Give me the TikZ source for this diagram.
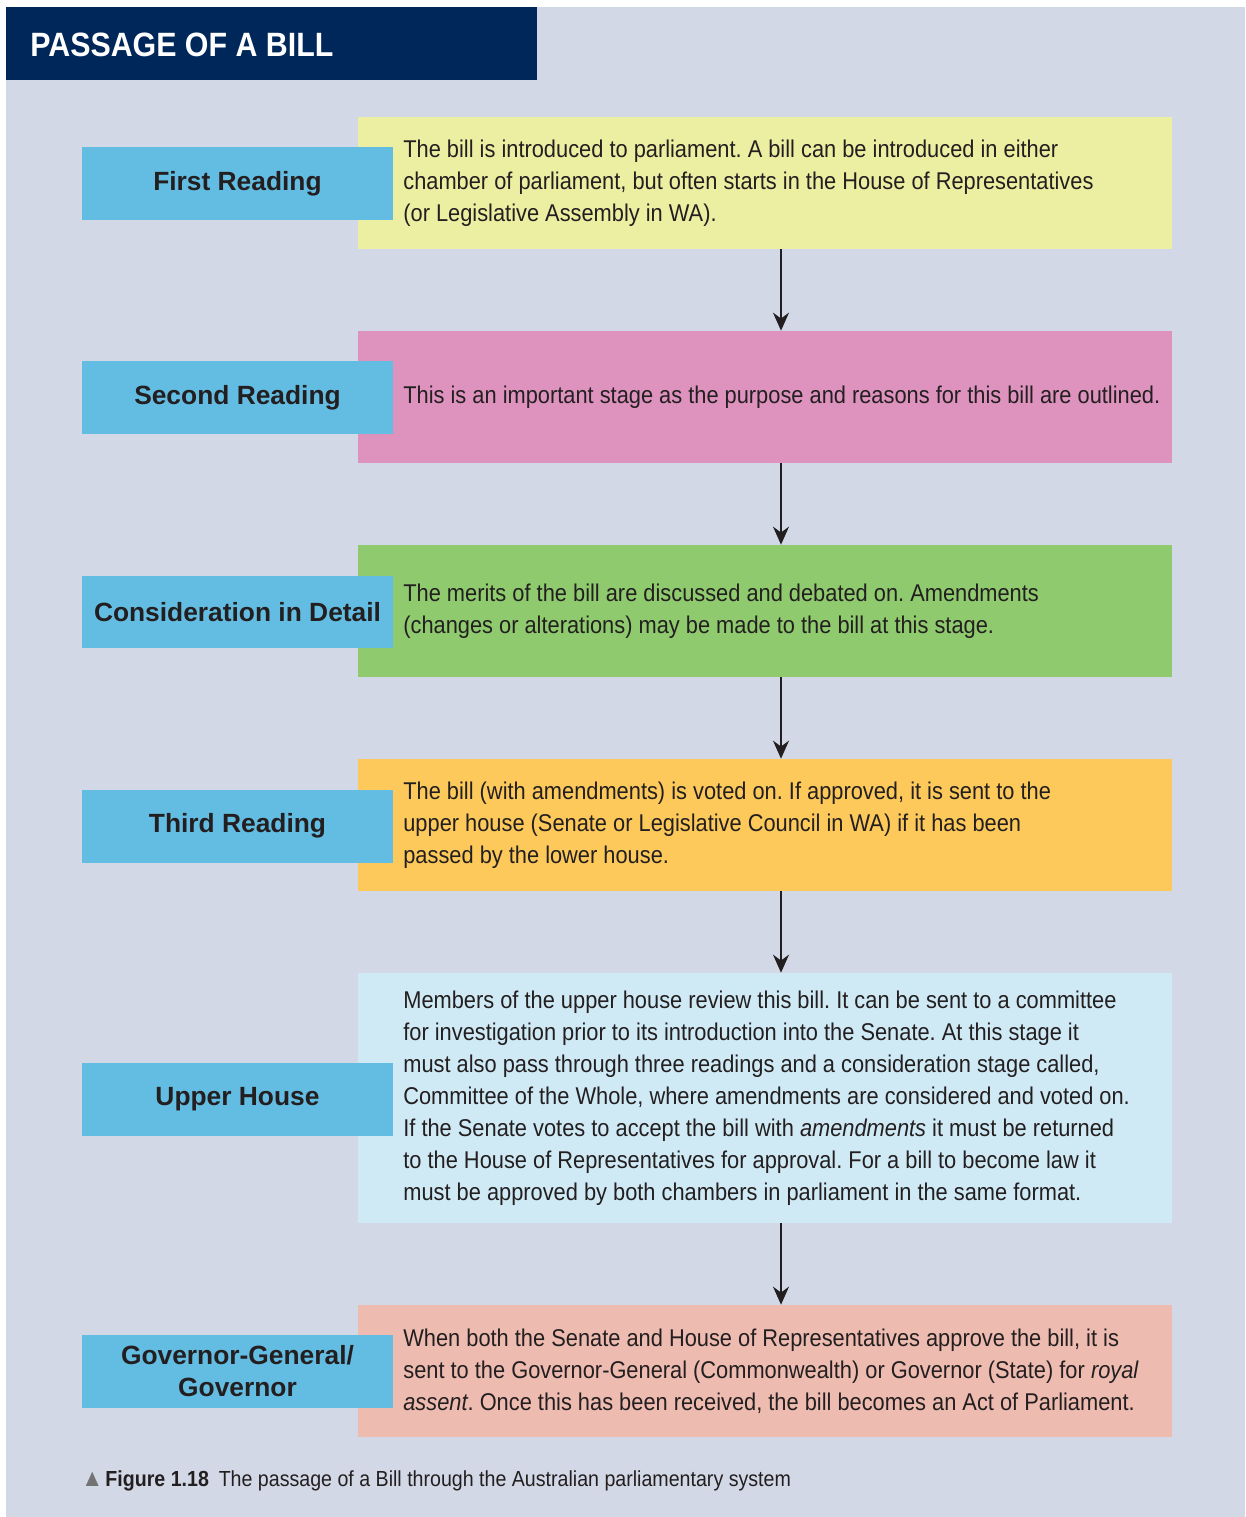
\documentclass[tikz,border=0pt]{standalone}
\usepackage{fontspec}
\setmainfont{Liberation Sans}
\newfontfamily\narrowfont{Liberation Sans}[FakeStretch=0.9]
\usetikzlibrary{arrows.meta,positioning}
\frenchspacing

\definecolor{panelbg}{HTML}{D2D8E6}
\definecolor{titlenavy}{HTML}{00275A}
\definecolor{stageblue}{HTML}{63BDE2}
\definecolor{ink}{HTML}{231F20}
\definecolor{firstfill}{HTML}{ECEFA2}
\definecolor{secondfill}{HTML}{DE93BF}
\definecolor{detailfill}{HTML}{8FCB6E}
\definecolor{thirdfill}{HTML}{FDC95A}
\definecolor{upperfill}{HTML}{D0EAF5}
\definecolor{govfill}{HTML}{EEBBB0}

\begin{document}
\begin{tikzpicture}
      [%%%%%%%%%%%%%%%%%%%%%%%%%%%%%%
      x=0.02cm,y=-0.02cm,
      stagebox/.style={rectangle,fill=stageblue,minimum width=6.22cm,minimum height=1.46cm,inner sep=0pt,align=center,text=ink,font=\fontsize{15}{18.2}\selectfont\bfseries},
      infobox/.style={rectangle,minimum width=16.28cm,minimum height=2.64cm,inner sep=0pt},
      infotext/.style={anchor=west,align=left,inner sep=0pt,text=ink,font=\narrowfont\fontsize{13.8}{18.2}\selectfont},
      flow/.style={-{Stealth[length=0.36cm,width=0.32cm]},line width=1.1pt,draw=ink},
      ]%%%%%%%%%%%%%%%%%%%%%%%%%%%%%%

      \useasboundingbox[fill=white] (0,0) rectangle (1245,1517);
      \fill[panelbg] (6,7) rectangle (1245,1517);
      \fill[titlenavy] (6,7) rectangle (537,80);
      \node[anchor=west,inner sep=0pt,text=white,font=\narrowfont\bfseries\fontsize{19.2}{22}\selectfont] (title) at (30,44.5) {PASSAGE OF A BILL};

      % coloured boxes
      \node[infobox,fill=firstfill ] (first) at (765,183) {};
      \node[infobox,fill=secondfill] (second) at (765,397) {};
      \node[infobox,fill=detailfill] (detail) at (765,611) {};
      \node[infobox,fill=thirdfill ] (third) at (765,825) {};
      \node[infobox,fill=upperfill,minimum height=5cm] (upper) at (765,1098) {};
      \node[infobox,fill=govfill   ] (governor) at (765,1371) {};

      % texts
      \node[infotext] (firsttxt) at (403,183) {The bill is introduced to parliament. A bill can be introduced in either\\chamber of parliament, but often starts in the House of Representatives\\(or Legislative Assembly in WA).};
      \node[infotext] (secondtxt) at (403,397) {This is an important stage as the purpose and reasons for this bill are outlined.};
      \node[infotext] (detailtxt) at (403,611) {The merits of the bill are discussed and debated on. Amendments\\(changes or alterations) may be made to the bill at this stage.};
      \node[infotext] (thirdtxt) at (403,825) {The bill (with amendments) is voted on. If approved, it is sent to the\\upper house (Senate or Legislative Council in WA) if it has been\\passed by the lower house.};
      \node[infotext] (uppertxt) at (403,1098) {Members of the upper house review this bill. It can be sent to a committee\\for investigation prior to its introduction into the Senate. At this stage it\\must also pass through three readings and a consideration stage called,\\Committee of the Whole, where amendments are considered and voted on.\\If the Senate votes to accept the bill with \textit{amendments} it must be returned\\to the House of Representatives for approval. For a bill to become law it\\must be approved by both chambers in parliament in the same format.};
      \node[infotext] (govtxt) at (403,1371) {When both the Senate and House of Representatives approve the bill, it is\\sent to the Governor-General (Commonwealth) or Governor (State) for \textit{royal}\\\textit{assent}. Once this has been received, the bill becomes an Act of Parliament.};

      % stage labels
      \node[stagebox] (firstlbl) at (237.5,183.5) {First Reading};
      \node[stagebox] (secondlbl) at (237.5,397.5) {Second Reading};
      \node[stagebox] (detaillbl) at (237.5,612) {Consideration in Detail};
      \node[stagebox] (thirdlbl) at (237.5,826) {Third Reading};
      \node[stagebox] (upperlbl) at (237.5,1099.5) {Upper House};
      \node[stagebox] (govlbl) at (237.5,1371.5) {Governor-General/\\Governor};

      \foreach \a/\b in {first/second,second/detail,detail/third,third/upper,upper/governor}
        \draw[flow] ([xshift=0.32cm]\a.south) -- ([xshift=0.32cm]\b.north);

      \node[anchor=west,inner sep=0pt,text=ink,font=\narrowfont\fontsize{12.4}{14}\selectfont] (caption) at (81,1481)
        {{\color{black!55}\fontsize{14}{14}\selectfont▲}\hspace{0.1em}\textbf{Figure 1.18}\hspace{0.45em}The passage of a Bill through the Australian parliamentary system};
    \end{tikzpicture}
\end{document}
